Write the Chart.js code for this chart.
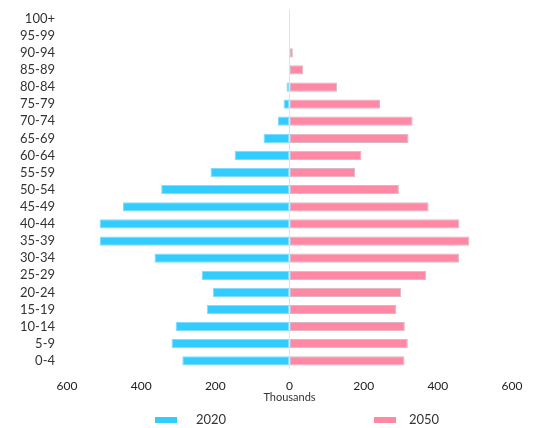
<!DOCTYPE html>
<html>
<head>
<meta charset="utf-8">
<script src="https://cdn.jsdelivr.net/npm/chart.js@4"></script>
<style>
  html, body { margin: 0; padding: 0; background: #fff; }
  #wrap { width: 548px; height: 428px; }
</style>
</head>
<body>
<div id="wrap"><canvas id="pyramid"></canvas></div>
<script>
// age groups, top to bottom
const ageGroups = ['100+', '95-99', '90-94', '85-89', '80-84', '75-79', '70-74', '65-69', '60-64', '55-59',
  '50-54', '45-49', '40-44', '35-39', '30-34', '25-29', '20-24', '15-19', '10-14', '5-9', '0-4'];

// thousands of people
const pop2020 = [0, 0, 0, 1, 8, 16, 31, 70, 148, 213, 346, 449, 512, 511, 364, 237, 207, 223, 307, 318, 289];
const pop2050 = [0, 0, 9, 37, 128, 244, 332, 321, 194, 177, 295, 375, 458, 485, 457, 368, 301, 288, 311, 319, 310];

const xTicks = [-600, -400, -200, 0, 200, 400, 600];

// legend drawn under the axis title: swatch and text positions per item
const legendBoxX = [155, 374];
const legendTextX = [196, 409];

const legendPlugin = {
  id: 'bottomLegend',
  afterDraw(chart) {
    const ctx = chart.ctx;
    ctx.save();
    ctx.font = '13px Lato';
    ctx.textBaseline = 'middle';
    chart.data.datasets.forEach((ds, i) => {
      const y = 420;
      ctx.fillStyle = ds.backgroundColor;
      ctx.fillRect(legendBoxX[i], y - 3, 22, 6);
      ctx.fillStyle = '#333';
      ctx.fillText(ds.label, legendTextX[i], y);
    });
    ctx.restore();
  }
};

new Chart(document.getElementById('pyramid'), {
  type: 'bar',
  data: {
    labels: ageGroups,
    datasets: [{
      label: '2020',
      data: pop2020.map(v => -v),
      backgroundColor: '#33ccff',
      borderColor: '#7fdcff',
      borderWidth: 1,
      borderSkipped: false,
      categoryPercentage: 1,
      barPercentage: 0.54
    }, {
      label: '2050',
      data: pop2050,
      backgroundColor: '#ff88a4',
      borderColor: '#d8b8c4',
      borderWidth: 1,
      borderSkipped: false,
      categoryPercentage: 1,
      barPercentage: 0.54
    }]
  },
  options: {
    indexAxis: 'y',
    responsive: true,
    maintainAspectRatio: false,
    animation: false,
    layout: { padding: { left: 13, right: 36, top: 10, bottom: 24 } },
    plugins: {
      legend: { display: false },
      tooltip: { enabled: false }
    },
    scales: {
      x: {
        stacked: true,
        min: -600,
        max: 600,
        afterBuildTicks: s => { s.ticks = xTicks.map(v => ({ value: v })); },
        ticks: {
          color: '#222',
          font: { family: 'Lato', size: 12 },
          padding: 10,
          callback: v => Math.abs(v)
        },
        grid: {
          drawTicks: false,
          color: c => c.tick && c.tick.value === 0 ? '#e2e2e2' : 'transparent'
        },
        border: { display: false },
        title: {
          display: true,
          text: 'Thousands',
          color: '#333',
          font: { family: 'Lato', size: 11 },
          padding: { top: -13, bottom: 0 }
        }
      },
      y: {
        stacked: true,
        afterFit: s => { s.width = 54; s.paddingTop = 0; s.paddingBottom = 0; },
        ticks: {
          color: '#333',
          font: { family: 'Lato', size: 13 },
          padding: 4,
          autoSkip: false
        },
        grid: { display: false },
        border: { display: false }
      }
    }
  },
  plugins: [legendPlugin]
});
</script>
</body>
</html>
